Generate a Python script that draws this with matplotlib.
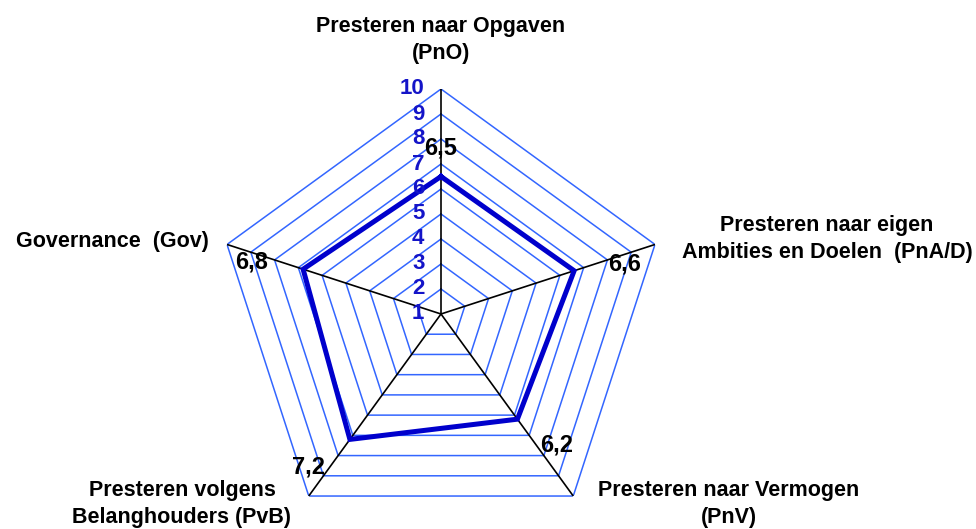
import numpy as np
import matplotlib
matplotlib.use("Agg")
import matplotlib.pyplot as plt

plt.rcParams['font.family'] = ['Liberation Sans', 'DejaVu Sans']

# ---- data ----
categories = ["Presteren naar Opgaven\n(PnO)",
              "Presteren naar eigen\nAmbities en Doelen  (PnA/D)",
              "Presteren naar Vermogen\n(PnV)",
              "Presteren volgens\nBelanghouders (PvB)",
              "Governance  (Gov)"]
values = [6.5, 6.6, 6.2, 7.2, 6.8]
value_labels = ["6,5", "6,6", "6,2", "7,2", "6,8"]
scale_ticks = [1, 2, 3, 4, 5, 6, 7, 8, 9, 10]

W, H = 976, 529
fig = plt.figure(figsize=(W / 100, H / 100), dpi=100)

cx, cy, R = 441, 314, 225
ax = fig.add_axes([(cx - R) / W, 1 - (cy + R) / H, 2 * R / W, 2 * R / H],
                  projection='polar')
ax.set_theta_zero_location('N')
ax.set_theta_direction(-1)
ax.set_rlim(1, 10)
ax.grid(False)
ax.set_xticks([])
ax.set_yticks([])
ax.spines['polar'].set_visible(False)
ax.patch.set_visible(False)

n = len(categories)
angles = np.linspace(0, 2 * np.pi, n, endpoint=False)
closed = np.concatenate([angles, angles[:1]])

grid_color = '#3366FF'
for v in scale_ticks[1:]:
    ax.plot(closed, [v] * (n + 1), color=grid_color, lw=1.1, zorder=1)
for a in angles:
    ax.plot([a, a], [1, 10], color='black', lw=1.2, zorder=2)

vals = values + values[:1]
ax.plot(closed, vals, color='#0000CC', lw=3.6, zorder=3, solid_joinstyle='miter')

# scale labels
for v in scale_ticks:
    ax.annotate(str(v), xy=(0, v), xytext=(-12, 0), textcoords='offset points',
                ha='right', va='center', color='#1414C8', fontsize=16,
                fontweight='bold', zorder=4, annotation_clip=False)

# value labels (offsets in px)
offsets = [(0, 28), (50, 7), (39, -26), (-41, -28), (-52, 7)]
for a, v, lab, (dx, dy) in zip(angles, values, value_labels, offsets):
    ax.annotate(lab, xy=(a, v), xytext=(dx * 0.72, dy * 0.72),
                textcoords='offset points', ha='center', va='center',
                fontsize=17, fontweight='bold', color='black', zorder=5,
                annotation_clip=False)

# category labels (pixel positions of text centers)
def px(x, y):
    return x / W, 1 - y / H

cat_pos = [(441, 40), (827, 239), (729, 504), (182, 504), (112, 242)]
for lab, (x, y) in zip(categories, cat_pos):
    fig.text(*px(x, y), lab, ha='center', va='center', fontsize=15.5,
             fontweight='bold', linespacing=1.4, color='black')

fig.savefig('out.png', dpi=100)
